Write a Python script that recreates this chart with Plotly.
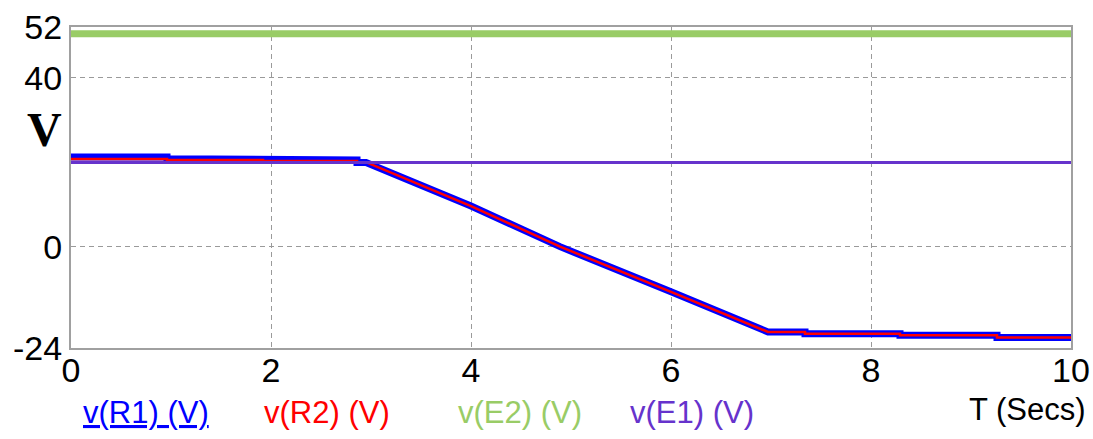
import plotly.graph_objects as go

# ---- data ----
t_r1 = [0, 0.96, 0.96, 1.92, 1.92, 2.86, 2.86, 2.95, 4.0, 4.89, 6.0, 6.97, 7.34, 7.34, 8.29, 8.29, 9.26, 9.26, 10]
v_r1 = [21.25, 21.25, 20.8, 20.8, 20.5, 20.5, 19.9, 19.9, 9.6, 0.0, -10.7, -20.2, -20.2, -20.6, -20.6, -21.0, -21.0, -21.5, -21.5]

t_r2 = [0, 0.96, 0.96, 1.92, 1.92, 2.86, 2.86, 2.95, 4.0, 4.89, 6.0, 6.97, 7.34, 7.34, 8.29, 8.29, 9.26, 9.26, 10]
v_r2 = [20.75, 20.75, 20.5, 20.5, 20.3, 20.3, 20.0, 20.0, 9.6, 0.0, -10.7, -20.2, -20.2, -20.6, -20.6, -21.0, -21.0, -21.5, -21.5]

t_e = [0, 10]
v_e2 = [50.4, 50.4]
v_e1 = [19.9, 19.9]

x_ticks = [0, 2, 4, 6, 8, 10]
y_ticks = [-24, 0, 40, 52]

series_names = ["v(R1) (V)", "v(R2) (V)", "v(E2) (V)", "v(E1) (V)"]
series_colors = ["#0000ff", "#ff0000", "#99cc66", "#6633cc"]

fig = go.Figure()
fig.add_trace(go.Scatter(x=t_r1, y=v_r1, mode="lines", line=dict(color=series_colors[0], width=7), name=series_names[0]))
fig.add_trace(go.Scatter(x=t_r2, y=v_r2, mode="lines", line=dict(color=series_colors[1], width=2.5), name=series_names[1]))
fig.add_trace(go.Scatter(x=t_e, y=v_e2, mode="lines", line=dict(color=series_colors[2], width=7), name=series_names[2]))
fig.add_trace(go.Scatter(x=t_e, y=v_e1, mode="lines", line=dict(color=series_colors[3], width=3), name=series_names[3]))

axis_common = dict(
    showline=True, mirror=True, linecolor="#a0a0a0", linewidth=2,
    showgrid=True, gridcolor="#9a9a9a", gridwidth=1, griddash="5px,4px",
    ticks="", zeroline=False, automargin=False,
    tickfont=dict(family="Liberation Sans, Arial", size=34, color="#000000"),
)

fig.update_xaxes(range=[0, 10], tickvals=x_ticks, ticktext=[str(v) for v in x_ticks],
                 ticklabelstandoff=-9, **axis_common)
fig.update_yaxes(range=[-24, 52], tickvals=y_ticks, ticktext=[str(v) for v in y_ticks], **axis_common)

annotations = [
    dict(text="V", x=-0.027, y=0.68, xref="paper", yref="paper", showarrow=False,
         xanchor="center", yanchor="middle",
         font=dict(family="Liberation Serif, Times New Roman", size=48, color="#000000", weight="bold")),
    dict(text="T (Secs)", x=1.017, y=-0.192, xref="paper", yref="paper", showarrow=False,
         xanchor="right", yanchor="middle",
         font=dict(family="Liberation Sans, Arial", size=31, color="#000000")),
]
legend_cx = [146, 327, 520, 692]
for name, color, px in zip(series_names, series_colors, legend_cx):
    f = dict(family="Liberation Sans, Arial", size=31, color=color)
    if name == "v(R1) (V)":
        f["lineposition"] = "under"
    annotations.append(dict(text=name, x=(px - 71) / 1000.0, y=-0.2, xref="paper", yref="paper",
                            showarrow=False, xanchor="center", yanchor="middle", font=f))

fig.update_layout(
    width=1093, height=439,
    margin=dict(l=71, r=22, t=27, b=91, autoexpand=False),
    paper_bgcolor="#ffffff", plot_bgcolor="#ffffff",
    showlegend=False,
    annotations=annotations,
)

fig.write_html("out.html", config={"displayModeBar": False},
               post_script="document.body.style.margin='0';document.body.style.padding='0';")
